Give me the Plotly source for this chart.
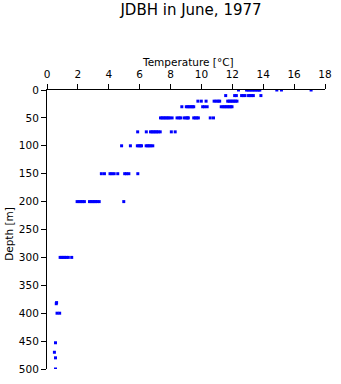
import plotly.graph_objects as go

# Temperature readings (°C) at each sampled depth (m)
t_0 = [12.4, 12.92, 13.02, 13.12, 13.22, 13.32, 13.42, 13.52, 13.62, 13.72, 13.78, 14.88, 15.18, 17.1]
t_10 = [11.57, 12.15, 12.26, 12.6, 12.7, 12.82, 13.05, 13.15, 13.25, 13.36, 13.85]
t_20 = [9.77, 9.99, 10.3, 10.82, 10.95, 11.08, 11.18, 11.7, 11.8, 11.9, 12.0, 12.1, 12.2, 12.3]
t_30 = [8.73, 9.02, 9.12, 9.22, 9.32, 9.42, 9.5, 10.08, 10.2, 10.37, 11.28, 11.4, 11.5, 11.6, 11.7, 11.8, 11.9, 11.98]
t_50 = [7.35, 7.45, 7.55, 7.65, 7.75, 7.85, 7.95, 8.1, 8.42, 8.55, 8.65, 8.88, 9.0, 9.1, 9.15,
        9.5, 9.6, 9.7, 9.8, 10.57, 10.78]
t_75 = [5.87, 6.43, 6.7, 6.8, 6.9, 7.0, 7.1, 7.2, 7.33, 8.05, 8.3]
t_100 = [4.83, 5.4, 5.85, 5.95, 6.05, 6.12, 6.42, 6.52, 6.62, 6.72, 6.85]
t_150 = [3.52, 3.72, 4.08, 4.2, 4.35, 4.58, 5.03, 5.15, 5.3, 5.88]
t_200 = [1.95, 2.08, 2.2, 2.3, 2.42, 2.75, 2.85, 2.95, 3.05, 3.15, 3.25, 3.38, 4.97]
t_300 = [0.85, 0.95, 1.05, 1.15, 1.25, 1.38, 1.6]
deep_depths = [381, 383, 400, 400, 453, 470, 480, 500]
deep_temps = [0.62, 0.6, 0.65, 0.82, 0.55, 0.48, 0.55, 0.55]

rows = [(0, t_0), (10, t_10), (20, t_20), (30, t_30), (50, t_50), (75, t_75),
        (100, t_100), (150, t_150), (200, t_200), (300, t_300)]

xs, ys = [], []
for d, temps in rows:
    xs.extend(temps)
    ys.extend([d] * len(temps))
xs.extend(deep_temps)
ys.extend(deep_depths)

x_ticks = list(range(0, 19, 2))
y_ticks = list(range(0, 501, 50))

FONT = "DejaVu Sans, Verdana, sans-serif"

fig = go.Figure(go.Scatter(
    x=xs, y=ys, mode="markers",
    marker=dict(symbol="square", size=3, color="#0000ff", line=dict(width=0)),
    hoverinfo="x+y",
))

fig.update_layout(
    width=341, height=384,
    margin=dict(l=47, r=9, t=90, b=9),
    paper_bgcolor="white", plot_bgcolor="white",
    showlegend=False,
    font=dict(family=FONT, size=10.5, color="black"),
    title=dict(text="JDBH in June, 1977", x=191 / 341, xanchor="center",
               y=1 - 10 / 384, yanchor="middle", yref="container",
               font=dict(family=FONT, size=15, color="black")),
    xaxis=dict(
        side="top", range=[0, 18], tickvals=x_ticks,
        ticks="outside", ticklen=5, tickcolor="black", tickwidth=1,
        showline=True, linecolor="black", linewidth=1,
        showgrid=False, zeroline=False, ticklabelstandoff=2,
        tickfont=dict(family=FONT, size=10.5),
    ),
    yaxis=dict(
        range=[500, 0], tickvals=y_ticks,
        ticks="outside", ticklen=5, tickcolor="black", tickwidth=1,
        showline=True, linecolor="black", linewidth=1,
        showgrid=False, zeroline=False,
        tickfont=dict(family=FONT, size=10.5),
    ),
    annotations=[
        dict(text="Temperature [°C]", xref="paper", yref="paper",
             x=(191.5 - 47) / 285, y=1 + (90 - 61) / 285,
             xanchor="center", yanchor="middle", showarrow=False,
             font=dict(family=FONT, size=10.5, color="black")),
        dict(text="Depth [m]", xref="paper", yref="paper",
             x=(8 - 47) / 285, y=(375 - 237) / 285, textangle=-90,
             xanchor="center", yanchor="middle", showarrow=False,
             font=dict(family=FONT, size=10.5, color="black")),
    ],
)

fig.write_html("out.html")
